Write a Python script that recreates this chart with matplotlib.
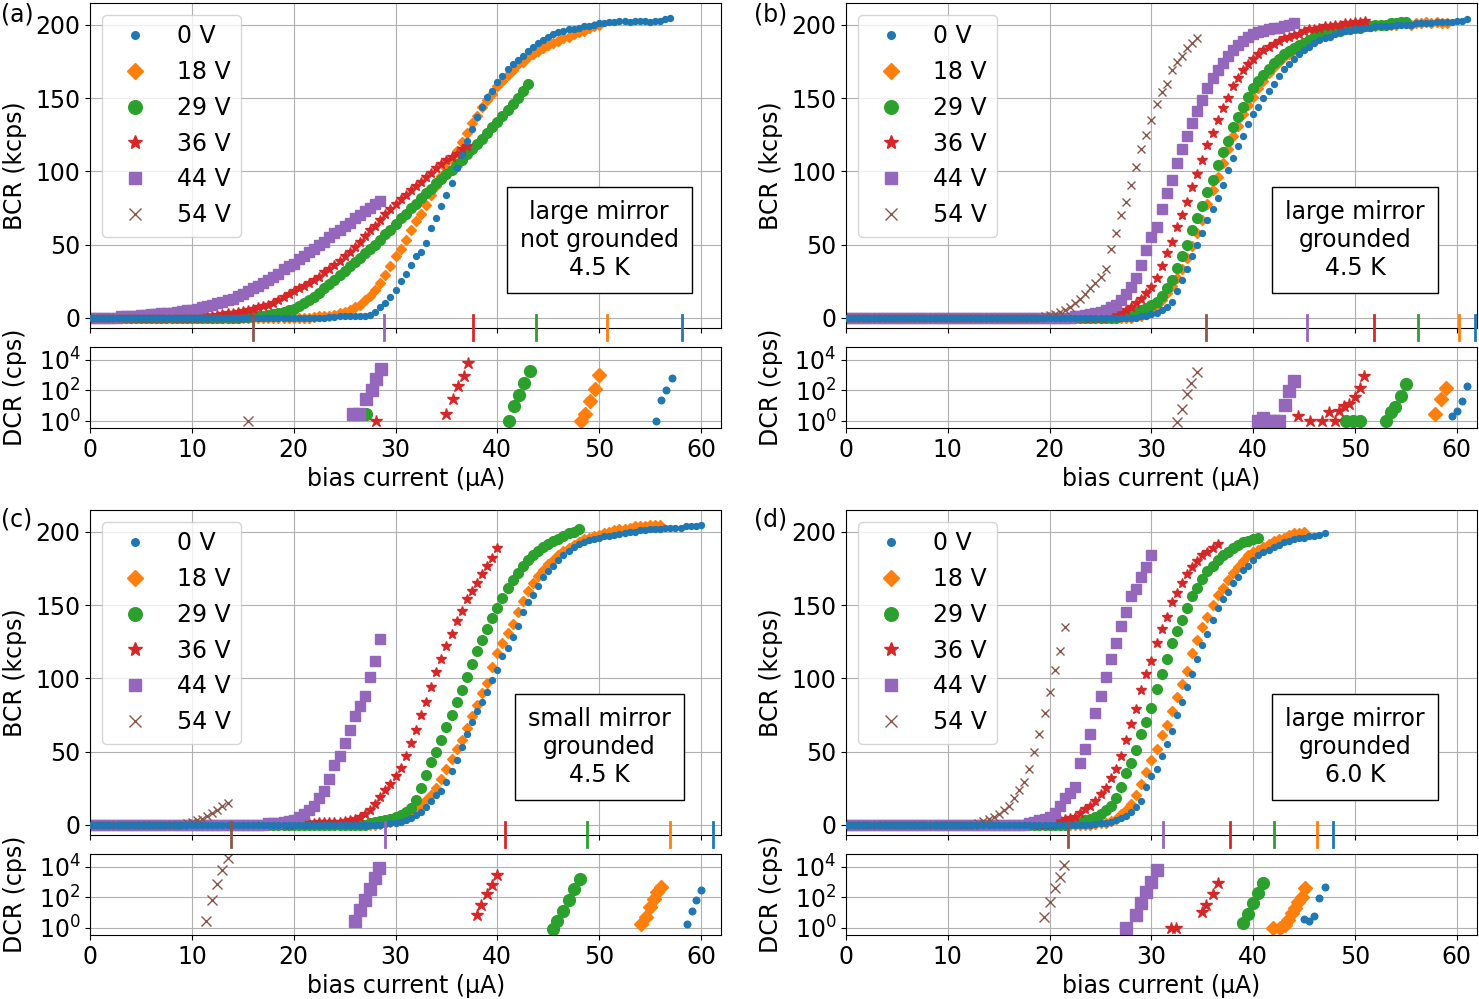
import numpy as np
import matplotlib
matplotlib.use("Agg")
import matplotlib.pyplot as plt
from matplotlib.ticker import NullLocator

#------------------------- Data ------------------------------
labels = ["0 V", "18 V", "29 V", "36 V", "44 V", "54 V"]
colors = ["tab:blue", "tab:orange", "tab:green", "tab:red", "tab:purple", "tab:brown"]
markers = [".", "D", "o", "*", "s", "x"]

STEP = 0.5  # bias current sweep step (uA)

# Bright count rate (kcps). Each curve sits on the zero floor from 0 uA up to its
# start value, then the listed points follow every STEP uA.

# (a) large mirror, not grounded, 4.5 K
a_start = [23.5, 22.0, 15.0, 11.0, 3.0, 16.0]
a_0V = [0.5, 0.5, 1, 1, 1, 1.5, 1.5, 1.5,
        2, 4, 7, 10, 14, 19, 25, 30, 36, 42, 45, 51, 61, 68, 76, 84, 92, 102, 111, 121,
        129, 137, 144, 151, 155, 161, 165, 170, 173, 176, 179, 182, 185, 188, 190, 192,
        194, 195, 196, 197, 197.5, 198, 199, 199.5, 200, 201, 201, 202, 202, 203, 203,
        202, 203, 203, 203, 202, 203, 203, 204, 205]
a_18V = [0.5, 1, 1, 1.5, 2, 3, 4, 5, 7, 9, 12, 15, 19, 24, 29, 35, 42, 47, 53, 60, 66, 71,
         77, 84, 90, 97, 102, 108, 114, 120, 126, 133, 138, 144, 149, 153, 158, 162, 166,
         169, 173, 175, 178, 180, 182, 184, 186, 188, 189, 191, 192, 194, 195, 196, 198,
         199, 200]
a_29V = [0.5, 0.5, 1, 1, 1.5, 2, 2.5, 3, 4, 5, 6, 8, 10, 12, 14, 17, 20, 23, 26, 29, 32, 35,
         38, 41, 44, 47, 50, 53, 57, 60, 64, 68, 71, 75, 78, 82, 85, 88, 92, 95, 98, 101,
         105, 108, 112, 115, 119, 122, 126, 130, 134, 138, 142, 146, 150, 155, 160]
a_36V = [1, 1, 1.5, 2, 2.5, 3, 3.5, 4, 4.5, 5, 6, 7, 8, 9, 10, 12, 14, 16, 18, 20, 22, 24,
         26, 28, 31, 33, 36, 39, 42, 45, 48, 52, 56, 60, 63, 67, 71, 74, 78, 81, 84, 87,
         90, 93, 96, 99, 102, 105, 108, 110, 112, 115, 117]
a_44V = [1, 1, 1.5, 1.5, 2, 2, 2.5, 2.5, 3, 3, 3.5, 4, 4.5, 5, 5.5, 6, 7, 8, 9, 10, 11, 12,
         13, 15, 16, 18, 20, 22, 24, 26, 28, 30, 33, 35, 37, 40, 42, 45, 47, 50, 52, 55,
         58, 60, 63, 65, 68, 70, 73, 75, 78, 80]
a_54V = []
a_bcr = [a_0V, a_18V, a_29V, a_36V, a_44V, a_54V]
a_switch = [58.1, 50.8, 43.8, 37.6, 28.9, 16.0]
a_dcr_x = [[55.6, 56.1, 56.6, 57.2],
           [48.2, 48.6, 49.1, 49.6, 50.0],
           [27.1, 41.1, 41.6, 42.1, 42.6, 43.2],
           [28.1, 35.0, 35.6, 36.1, 36.7, 37.1],
           [25.8, 26.4, 27.1, 27.7, 28.1, 28.6],
           [15.5]]
a_dcr_y = [[1, 24, 100, 650],
           [1, 3, 21, 125, 1000],
           [3, 1, 10, 48, 320, 2000],
           [1, 3, 29, 190, 940, 6000],
           [3, 3, 29, 100, 560, 2500],
           [1]]

# (b) large mirror, grounded, 4.5 K
b_start = [29.0, 28.5, 27.0, 25.5, 22.5, 19.5]
b_0V = [1, 1.5, 2.5, 3.5, 5, 7.5, 11, 18, 26, 33, 42, 50, 58, 67, 74, 82, 91, 101, 109, 117,
        124, 132, 139, 144, 150, 155, 160, 165, 170, 173, 177, 180, 183, 185, 188, 190,
        191, 192, 194, 195, 196, 196, 197, 197, 198, 198, 199, 199, 199, 199, 200, 200,
        200, 200, 201, 201, 201, 201, 202, 202, 202, 202, 203, 203, 204]
b_18V = [1, 1.5, 2.5, 4.5, 7.5, 12, 17, 22, 27, 33, 41, 49, 58, 67, 78, 87, 96, 106, 115,
         124, 131, 139, 145, 151, 157, 162, 167, 171, 175, 178, 180, 183, 185, 187, 189,
         191, 192, 194, 195, 196, 196, 197, 197, 198, 198, 199, 199, 199, 200, 200, 200,
         200, 201, 201, 200, 201, 201, 202, 201, 202, 201, 201]
b_29V = [1, 2, 3, 4, 5, 6.5, 8.5, 11, 15, 20, 26, 34, 42, 50, 60, 68, 76, 86, 94, 104, 113,
         121, 130, 137, 144, 151, 157, 162, 166, 170, 174, 177, 180, 182, 184, 186, 188,
         190, 192, 193, 194, 195, 196, 196, 197, 198, 198, 198, 199, 199, 200, 200, 200,
         201, 201, 202, 202]
b_36V = [1, 2, 3, 3.5, 5, 7, 10, 13, 17, 21, 27, 35, 44, 52, 62, 70, 79, 89, 98, 108, 118,
         126, 135, 143, 150, 158, 164, 169, 173, 177, 180, 183, 185, 187, 189, 191, 192,
         193, 194, 196, 197, 197, 198, 199, 199, 200, 200, 201, 201, 202, 202, 203]
b_44V = [1, 1.5, 2, 2.5, 3, 4, 5, 7, 9, 12, 16, 21, 27, 36, 46, 55, 62, 74, 85, 94, 106, 115,
         124, 133, 141, 149, 157, 164, 169, 174, 179, 183, 186, 189, 192, 194, 195, 196,
         197, 198, 198, 199, 200, 201]
b_54V = [1, 2, 2.5, 4, 5.5, 7.5, 10, 13, 16, 20, 24, 28, 33, 47, 58, 70, 79, 91, 103, 115,
         125, 135, 146, 154, 160, 169, 175, 179, 184, 188, 191]
b_bcr = [b_0V, b_18V, b_29V, b_36V, b_44V, b_54V]
b_switch = [61.8, 60.2, 56.2, 51.9, 45.3, 35.4]
b_dcr_x = [[59.5, 60.0, 60.5, 61.0],
           [57.9, 58.4, 58.9],
           [49.1, 49.8, 50.5, 53.0, 53.5, 53.9, 54.5, 55.0],
           [41.3, 44.4, 45.6, 46.8, 47.4, 48.0, 48.4, 48.9, 49.4, 50.0, 50.5, 50.9],
           [40.5, 41.0, 41.5, 42.0, 42.5, 43.1, 43.5, 44.0],
           [32.5, 33.0, 33.5, 33.9, 34.5]]
b_dcr_y = [[2, 4.2, 20, 190],
           [2.8, 26, 140],
           [1, 1, 1, 1, 4, 8, 43, 280],
           [0.9, 2, 1, 1, 4, 1, 4.5, 9, 12.5, 37, 150, 830],
           [1, 1.5, 1, 1, 1, 12, 90, 420],
           [0.9, 6, 60, 310, 1500]]

# (c) small mirror, grounded, 4.5 K
c_start = [29.0, 28.5, 27.5, 20.0, 17.5, 9.5]
c_0V = [0.5, 1, 1.5, 2, 3, 4.5, 6.5, 9, 12, 16, 20, 23, 29, 37, 44, 53, 62, 70, 78, 84, 91,
        99, 106, 115, 121, 128, 136, 145, 152, 157, 163, 169, 173, 177, 181, 184, 187, 190,
        192, 193, 194.5, 195.5, 196, 197, 197.5, 198, 198.5, 199, 200, 200, 201, 201, 202,
        202, 202, 203, 203, 203, 203, 204, 204, 204, 205]
c_18V = [0.5, 1, 2, 3, 4.5, 6.5, 8.5, 11, 14, 17, 20, 25, 31, 38, 45, 52, 58, 66, 74, 82, 90,
         97, 108, 117, 124, 131, 137, 145, 153, 160, 165, 170, 174, 178, 181, 184, 187, 189,
         191, 193, 195, 196, 197, 198, 199, 200, 201, 202, 202, 203, 204, 204, 204, 205,
         205, 205]
c_29V = [1, 2, 2.5, 3, 4, 5, 6.5, 8.5, 11.5, 17, 25, 34, 43, 50, 58, 67, 75, 84, 92, 101,
         110, 119, 126, 134, 141, 148, 155, 162, 167, 172, 177, 181, 184, 187, 190, 192,
         194, 195, 197, 199, 200, 202]
c_36V = [1, 1, 1.5, 1.5, 1.5, 2, 2, 2, 2,
         2, 2.5, 3, 4, 5.5, 7.5, 10, 14, 19, 24, 28, 33, 39, 47, 56, 65, 75, 84, 94, 104,
         113, 122, 130, 139, 146, 154, 160, 165, 171, 177, 182, 189]
c_44V = [1, 1.5, 1.5, 2, 2.5, 3.5, 5, 7.5, 10, 13, 18, 23, 31, 41, 47, 56, 65, 74, 81, 88,
         101, 112, 127]
c_54V = [1, 2, 3, 4, 6, 8, 10, 13, 15]
c_bcr = [c_0V, c_18V, c_29V, c_36V, c_44V, c_54V]
c_switch = [61.2, 57.0, 48.8, 40.8, 29.0, 13.8]
c_dcr_x = [[58.6, 59.1, 59.5, 60.0],
           [54.1, 54.6, 55.0, 55.4, 55.7, 56.1],
           [45.5, 45.9, 46.5, 47.0, 47.5, 48.1],
           [38.0, 38.4, 39.0, 39.5, 40.0],
           [26.0, 26.5, 27.0, 27.5, 28.0, 28.4],
           [11.4, 12.0, 12.5, 13.0, 13.5]]
c_dcr_y = [[1.9, 13, 68, 300],
           [1.7, 5, 22, 80, 220, 500],
           [0.9, 3, 13, 67, 380, 1600],
           [6.6, 30, 160, 640, 2900],
           [2.7, 15, 67, 380, 2000, 9000],
           [2.7, 72, 800, 6700, 40000]]

# (d) large mirror, grounded, 6.0 K
d_start = [24.5, 24.0, 22.0, 20.5, 18.0, 13.0]
d_0V = [0.5, 1, 1.5, 2, 3, 4.5, 6, 8.5, 12, 16, 26, 33, 38, 47, 55, 64, 75, 84, 94, 103,
        113, 123, 130, 140, 148, 154, 159, 165, 169, 174, 177, 181, 184, 186, 188, 190,
        191, 193, 194, 195, 196, 196, 197, 197, 198, 199]
d_18V = [0, 0.5, 1, 1.5, 2.5, 4, 7, 10, 14, 20, 28, 36, 44, 52, 61, 68, 78, 87, 96, 105,
         117, 126, 135, 142, 150, 157, 162, 167, 172, 176, 180, 184, 186, 188, 190, 192,
         194, 195, 196, 198, 199, 199, 200]
d_29V = [1, 1.5, 2, 3, 4, 5, 7, 10, 13, 18, 26, 35, 42, 51, 62, 70, 80, 93, 103, 113, 124,
         132, 140, 148, 156, 162, 168, 173, 177, 181, 184, 186, 189, 191, 193, 194, 195,
         196]
d_36V = [3, 3.5, 4, 4.5, 5, 8, 10.5, 13, 16, 21, 25, 32, 38, 47, 58, 69, 79, 92, 103, 112,
         124, 134, 142, 152, 158, 165, 171, 176, 180, 184, 186, 189, 192]
d_44V = [1, 2, 3, 4, 5, 8, 13, 18, 22, 26, 42, 52, 62, 76, 88, 101, 113, 124, 136, 145, 156,
         161, 169, 176, 184]
d_54V = [1, 2.5, 4, 5.5, 7.5, 10, 13, 18, 24, 29, 38, 50, 62, 76, 91, 106, 119, 135]
d_bcr = [d_0V, d_18V, d_29V, d_36V, d_44V, d_54V]
d_switch = [47.8, 46.3, 42.0, 37.7, 31.1, 21.8]
d_dcr_x = [[45.0, 45.5, 46.0, 46.5, 47.0],
           [41.9, 42.6, 43.1, 43.4, 43.8, 44.1, 44.4, 44.8, 45.1],
           [39.0, 39.5, 40.0, 40.5, 41.0],
           [31.9, 32.4, 35.0, 35.4, 36.0, 36.5],
           [27.5, 28.5, 29.0, 29.5, 30.0, 30.5],
           [19.4, 20.0, 20.5, 21.0, 21.4]]
d_dcr_y = [[3.8, 3, 5.7, 88, 490],
           [1, 1, 1.6, 3.4, 9.4, 20, 53, 110, 390],
           [2.1, 8, 41, 210, 820],
           [1, 1, 11, 32, 170, 820],
           [1, 6.6, 41, 230, 1000, 6000],
           [4.9, 53, 430, 2200, 12500]]

#------------------------- Plotting ------------------------------
plt.rcParams["font.size"] = 17

ms_up = [8.5, 5.5, 7, 7.5, 6.5, 6]
ms_low = [9.5, 7, 8.5, 9, 8, 7]

fig = plt.figure(figsize=(14.79, 9.99), dpi=100)


def bcrSeries(start, rise):
    flat = [0.0] * int(round(start / STEP))
    y = np.array(flat + list(rise), dtype=float)
    x = np.arange(len(y)) * STEP
    return x, y


def drawPanel(left, bottom, starts, curves, switches, dcr_x, dcr_y, note):
    width = 0.4268
    ax_up = fig.add_axes([left, bottom + 0.1001, width, 0.3253])
    ax_low = fig.add_axes([left, bottom, width, 0.0811])

    for i in range(len(labels)):
        x, y = bcrSeries(starts[i], curves[i])
        ax_up.plot(x, y, linestyle="none", marker=markers[i], ms=ms_up[i],
                   color=colors[i], zorder=3 if i == 0 else 2)
        ax_up.plot([switches[i], switches[i]], [2, -15], color=colors[i], lw=2,
                   clip_on=False, zorder=4)

    handles = []
    for i in range(len(labels)):
        h, = ax_low.plot(dcr_x[i], dcr_y[i], linestyle="none", marker=markers[i],
                         ms=ms_low[i], color=colors[i], label=labels[i],
                         zorder=3 if i == 0 else 2)
        handles.append(h)

    ax_up.set_xlim(0, 62)
    ax_up.set_ylim(-7, 215)
    ax_up.set_yticks([0, 50, 100, 150, 200])
    ax_up.set_xticks(range(0, 61, 10))
    ax_up.tick_params(labelbottom=False)
    ax_up.grid(True)
    ax_up.set_ylabel("BCR (kcps)")
    ax_up.yaxis.set_label_coords(-0.1, 0.5)
    ax_up.legend(handles, labels, loc="upper left", markerscale=1.15)
    ax_up.text(50, 53, note, ha="center", va="center",
               bbox=dict(boxstyle="square,pad=0.55", fc="white", ec="black"))

    ax_low.set_yscale("log")
    ax_low.set_xlim(0, 62)
    ax_low.set_ylim(0.35, 7e4)
    ax_low.set_yticks([1, 100, 1e4])
    ax_low.yaxis.set_minor_locator(NullLocator())
    ax_low.set_xticks(range(0, 61, 10))
    ax_low.grid(True)
    ax_low.set_ylabel("DCR (cps)")
    ax_low.yaxis.set_label_coords(-0.1, 0.5)
    ax_low.set_xlabel("bias current (µA)")


drawPanel(0.0609, 0.5716, a_start, a_bcr, a_switch, a_dcr_x, a_dcr_y,
          "large mirror\nnot grounded\n4.5 K")
drawPanel(0.5720, 0.5716, b_start, b_bcr, b_switch, b_dcr_x, b_dcr_y,
          "large mirror\ngrounded\n4.5 K")
drawPanel(0.0609, 0.0641, c_start, c_bcr, c_switch, c_dcr_x, c_dcr_y,
          "small mirror\ngrounded\n4.5 K")
drawPanel(0.5720, 0.0641, d_start, d_bcr, d_switch, d_dcr_x, d_dcr_y,
          "large mirror\ngrounded\n6.0 K")

fig.text(0.001, 0.997, "(a)", ha="left", va="top")
fig.text(0.510, 0.997, "(b)", ha="left", va="top")
fig.text(0.001, 0.4915, "(c)", ha="left", va="top")
fig.text(0.510, 0.4915, "(d)", ha="left", va="top")

fig.savefig("out.png", dpi=100)
